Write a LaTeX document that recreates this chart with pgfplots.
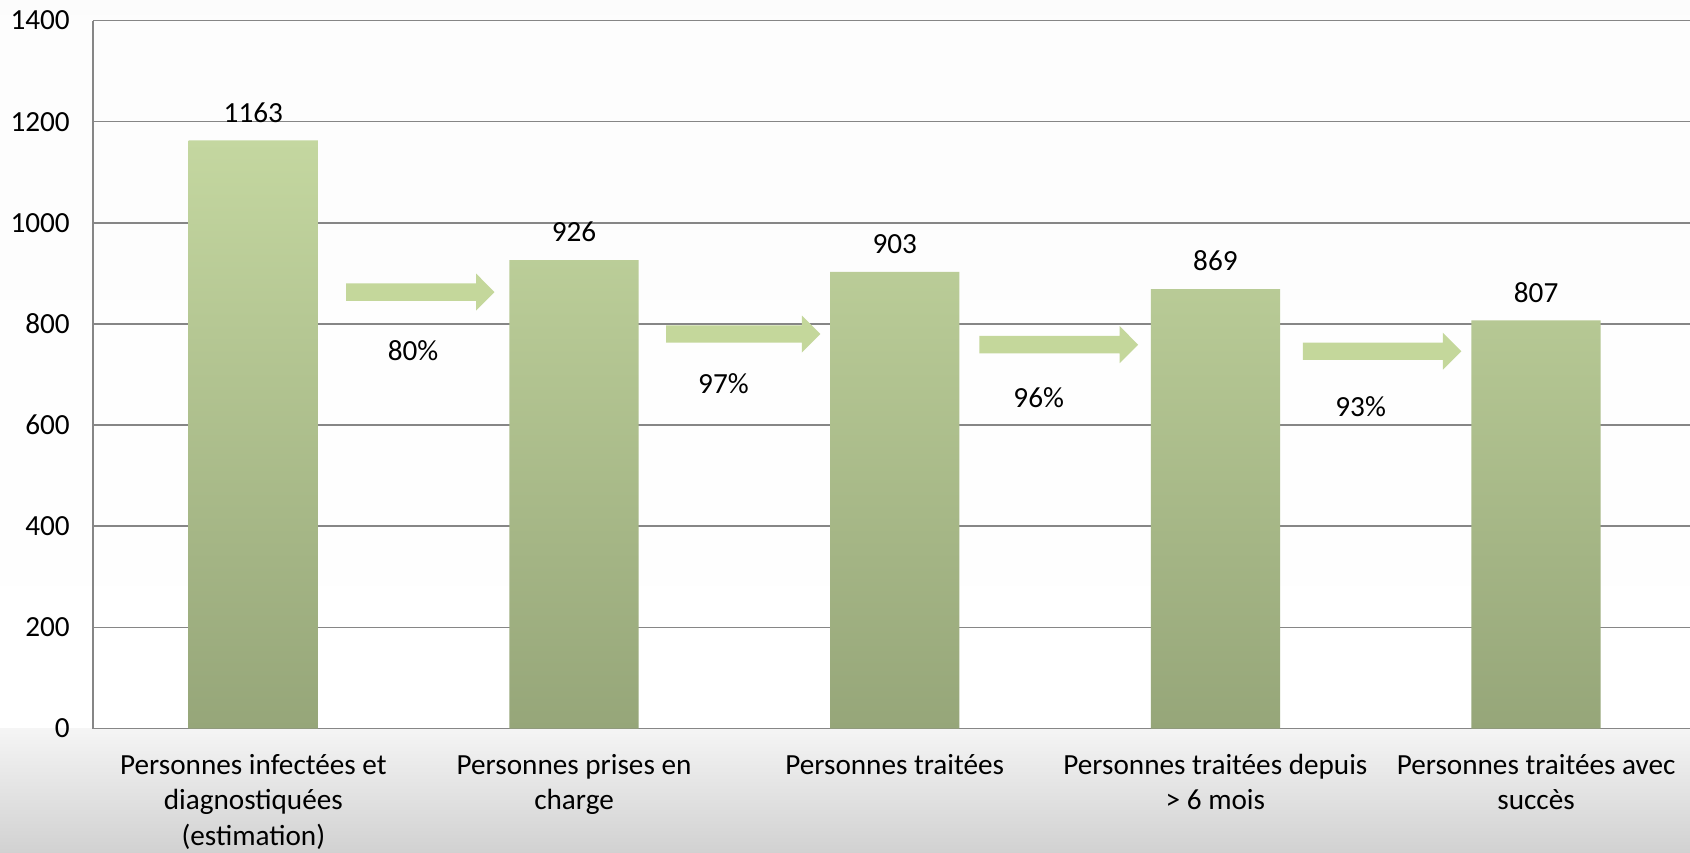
\documentclass[border=0pt]{standalone}
\usepackage{fontspec}
\setmainfont{Carlito}
\usepackage{pgfplots}
\pgfplotsset{compat=1.18}

\definecolor{barTop}{RGB}{196,215,160}
\definecolor{barBot}{RGB}{150,166,121}
\definecolor{arrowc}{RGB}{196,215,155}
\definecolor{gridc}{RGB}{134,134,134}

% block arrow between two bars: x start, x tip, y
\newcommand{\flow}[3]{%
  \fill[arrowc] ([yshift=4.35pt]axis cs:#1,#3) -- ([xshift=-9.2pt,yshift=4.35pt]axis cs:#2,#3)
    -- ([xshift=-9.2pt,yshift=9.25pt]axis cs:#2,#3) -- (axis cs:#2,#3)
    -- ([xshift=-9.2pt,yshift=-9.25pt]axis cs:#2,#3) -- ([xshift=-9.2pt,yshift=-4.35pt]axis cs:#2,#3)
    -- ([yshift=-4.35pt]axis cs:#1,#3) -- cycle;}

\begin{document}
\begin{tikzpicture}[font=\fontsize{14.6}{17.8}\selectfont]
% chart background
\shade[top color=black!1, middle color=black!9, bottom color=white] (-46.5pt,0) rectangle (798.5pt,364.25pt);
\shade[top color=black!4, bottom color=black!18] (-46.5pt,-62.2pt) rectangle (798.5pt,0);
\useasboundingbox (-46.5pt,-62.2pt) rectangle (798.5pt,364.25pt);

\begin{axis}[
    scale only axis,
    width=798.5pt,
    height=354pt,
    xmin=-0.5, xmax=4.48,
    ymin=0, ymax=1400,
    axis x line*=bottom,
    axis y line*=left,
    axis line style={draw=gridc, line width=0.8pt},
    ytick={0,200,...,1400},
    xtick={0,1,2,3,4},
    xticklabels={
      {\strut Personnes infectées et\\diagnostiquées\\(estimation)},
      {\strut Personnes prises en\\charge},
      {\strut Personnes traitées},
      {\strut Personnes traitées depuis\\> 6 mois},
      {\strut Personnes traitées avec\\succès}},
    xticklabel style={align=center, yshift=-6.8pt},
    yticklabel style={xshift=-8.1pt},
    major tick length=0pt,
    ymajorgrids,
    major grid style={draw=gridc, line width=0.75pt},
    scaled y ticks=false,
    /pgf/number format/1000 sep={},
    /pgf/number format/assume math mode=true,
    bar width=0.403,
]
\addplot[ybar, draw=none, top color=barTop, bottom color=barBot,
    nodes near coords,
    every node near coord/.append style={text=black, yshift=5.5pt}]
  coordinates {(0,1163) (1,926) (2,903) (3,869) (4,807)};

\flow{0.289}{0.752}{863}
\flow{1.287}{1.768}{780}
\flow{2.264}{2.759}{759}
\flow{3.273}{3.767}{746}

\node at (axis cs:0.498,747) {80\%};
\node at (axis cs:1.466,681) {97\%};
\node at (axis cs:2.449,654) {96\%};
\node at (axis cs:3.453,636) {93\%};
\end{axis}
\end{tikzpicture}
\end{document}
